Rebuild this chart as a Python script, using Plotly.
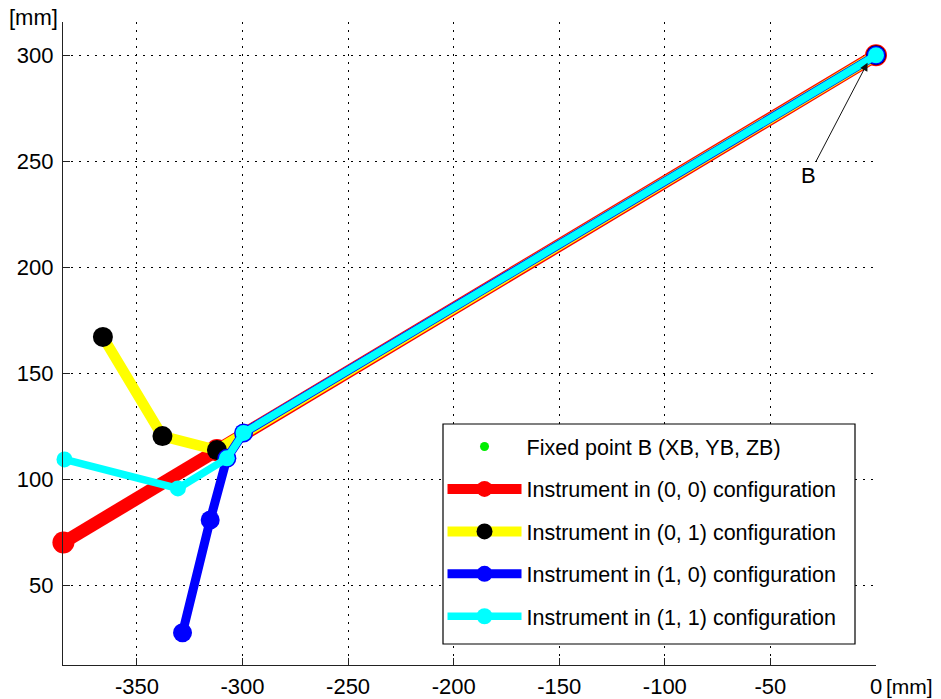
import plotly.graph_objects as go

# Axis ticks
x_ticks = [-350, -300, -250, -200, -150, -100, -50, 0]
x_tick_text = ["-350", "-300", "-250", "-200", "-150", "-100", "-50", "0"]
y_ticks = [50, 100, 150, 200, 250, 300]

# Fixed point B
b_x = [0]
b_y = [300]

# Instrument joint positions for each configuration [mm]
red_x = [0, -312.1, -384.8]
red_y = [300, 113.7, 70.1]

yellow_x = [0, -312.1, -337.9, -366.1]
yellow_y = [300, 113.7, 120.3, 167.1]

blue_x = [0, -299.5, -307.4, -315.3, -328.4]
blue_y = [300, 121.8, 109.8, 80.7, 27.5]

cyan_x = [0, -299.5, -307.4, -330.6, -384.3]
cyan_y = [300, 121.8, 109.8, 95.6, 109.3]

FONT = "Liberation Sans, Arial, Helvetica, sans-serif"

fig = go.Figure()

fig.add_trace(go.Scatter(
    x=b_x, y=b_y, mode="markers", name="Fixed point B (XB, YB, ZB)",
    marker=dict(color="#00ee00", size=9), legendgroup="g0", cliponaxis=False))

series = [
    ("Instrument in (0, 0) configuration", red_x, red_y, "#ff0000", "#ff0000", 13, 22),
    ("Instrument in (0, 1) configuration", yellow_x, yellow_y, "#ffff00", "#000000", 10.5, 20),
    ("Instrument in (1, 0) configuration", blue_x, blue_y, "#0000ff", "#0000ff", 9, 19),
    ("Instrument in (1, 1) configuration", cyan_x, cyan_y, "#00ffff", "#00ffff", 7.5, 16),
]
for i, (name, xs, ys, lc, mc, lw, ms) in enumerate(series):
    fig.add_trace(go.Scatter(
        x=xs, y=ys, mode="lines+markers", name=name,
        line=dict(color=lc, width=lw),
        marker=dict(color=mc, size=ms, line=dict(width=0)),
        legendgroup=f"g{i+1}", cliponaxis=False))

axis_common = dict(
    showgrid=True, gridcolor="#000000", gridwidth=1.3, griddash="2px,6px",
    showline=True, linecolor="#222222", linewidth=1.3,
    ticks="inside", ticklen=7, tickwidth=1, tickcolor="#222222",
    zeroline=False, automargin=False,
    tickfont=dict(family=FONT, size=22, color="#000000"),
)

fig.update_xaxes(range=[-385, 0], tickvals=x_ticks, ticktext=x_tick_text,
                 ticklabelstandoff=1, **axis_common)
fig.update_yaxes(range=[12.3, 315.7], tickvals=y_ticks, ticklabelstandoff=4, **axis_common)

fig.add_annotation(
    x=-4, y=296.5, xref="x", yref="y", text="B", showarrow=True,
    ax=-59, ay=113, arrowhead=2, arrowsize=1.6, arrowwidth=1, arrowcolor="#111111",
    font=dict(family=FONT, size=22, color="#000000"))

fig.add_annotation(
    x=0.0, y=1.0, xref="paper", yref="paper", text="[mm]", showarrow=False,
    xanchor="right", yanchor="bottom", xshift=-3, yshift=-10,
    font=dict(family=FONT, size=22, color="#000000"))
fig.add_annotation(
    x=1.0, y=0.0, xref="paper", yref="paper", text="[mm]", showarrow=False,
    xanchor="left", yanchor="middle", xshift=9, yshift=-21, borderpad=0,
    font=dict(family=FONT, size=21, color="#000000"))

# Legend frame (white box with black border behind the legend entries)
fig.add_shape(
    type="rect", xref="paper", yref="paper",
    x0=(443 - 63) / 813, x1=(855 - 63) / 813,
    y0=(665 - 644) / 643, y1=(665 - 424) / 643,
    line=dict(color="#000000", width=1.2), fillcolor="white", layer="above")

fig.update_layout(
    width=941, height=699,
    margin=dict(l=63, r=65, t=22, b=34),
    paper_bgcolor="white", plot_bgcolor="white",
    font=dict(family=FONT, color="#000000"),
    showlegend=True,
    legend=dict(
        x=0.4668, y=(665 - 426) / 643, xanchor="left", yanchor="top",
        bgcolor="rgba(0,0,0,0)", borderwidth=0,
        font=dict(family=FONT, size=21.5, color="#000000"),
        itemwidth=74, tracegroupgap=11.5, itemclick=False,
    ),
)

fig.write_html("out.html")
